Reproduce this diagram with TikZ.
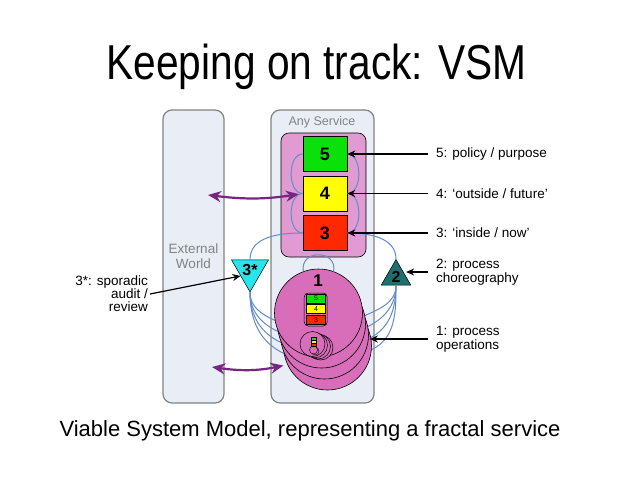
\documentclass[tikz,border=0pt]{standalone}
\usepackage{fontspec}
\setmainfont{Liberation Sans}
\usepackage{tikz}
\usetikzlibrary{arrows.meta,positioning,shapes.geometric}

\definecolor{panelfill}{RGB}{233,238,246}
\definecolor{panelline}{RGB}{130,130,130}
\definecolor{mgmtpink}{RGB}{224,156,210}
\definecolor{discpink}{RGB}{216,110,186}
\definecolor{sysgreen}{RGB}{10,225,10}
\definecolor{sysyellow}{RGB}{255,255,0}
\definecolor{sysred}{RGB}{255,40,0}
\definecolor{flowblue}{RGB}{100,140,200}
\definecolor{linkpurple}{RGB}{118,38,128}
\definecolor{coordteal}{RGB}{30,112,112}
\definecolor{auditcyan}{RGB}{40,228,235}

\tikzset{
	panel/.style={draw=panelline, fill=panelfill, rounded corners=9pt, line width=1.2pt},
	sysbox/.style={draw, line width=0.6pt, minimum width=44pt, minimum height=35pt, font=\bfseries\fontsize{18}{18}\selectfont},
	minibox/.style={draw, line width=0.4pt, minimum width=19pt, minimum height=9pt, inner sep=0, font=\fontsize{7}{7}\selectfont},
	disc/.style={draw, line width=0.6pt, circle, fill=discpink, minimum size=88pt, inner sep=0},
	smalldisc/.style={draw, line width=0.5pt, circle, fill=discpink, minimum size=25pt, inner sep=0},
	tri/.style={draw, line width=0.5pt, regular polygon, regular polygon sides=3, minimum size=34pt, inner sep=0, font=\bfseries\fontsize{16}{16}\selectfont},
	flow/.style={draw=flowblue, line width=1pt},
	pointer/.style={-{Stealth[length=8pt,width=7pt]}, line width=1.2pt},
	linkarrow/.style={{Stealth[length=13pt,width=11pt]}-{Stealth[length=13pt,width=11pt]}, draw=linkpurple, line width=2.2pt, shorten >=4pt},
	lbl/.style={font=\fontsize{13.5}{14}\selectfont, inner xsep=8pt, inner ysep=1pt}
}

\begin{document}
\begin{tikzpicture}[x=1pt, y=1pt, node distance=39.5pt]
		\useasboundingbox[fill=white] (0,0) rectangle (638,-479);
		
		% title and caption
		\node[anchor=base, font=\fontsize{49}{49}\selectfont, xscale=0.83, transform shape] (title) at (316.5,-79) {Keeping on track: VSM};
		\node[anchor=base, font=\fontsize{22}{22}\selectfont] (caption) at (310,-436) {Viable System Model, representing a fractal service};
		
		% panels
		\node[panel, minimum width=61pt, minimum height=293pt, text=panelline, align=center, font=\fontsize{13.5}{15}\selectfont] (ext) at (193.5,-256.5) {External\\World};
		\node[panel, minimum width=103pt, minimum height=293pt] (svc) at (322.5,-256.5) {};
		\node[text=panelline, font=\fontsize{12.5}{12.5}\selectfont] (anysvc) at (322,-122) {Any Service};
		\node[draw, line width=0.6pt, fill=mgmtpink, rounded corners=8pt, minimum width=85pt, minimum height=124pt] (mgmt) at (323.5,-195) {};
		
		% systems 5, 4, 3
		\node[sysbox, fill=sysgreen] (s5) at (325,-154) {5};
		\node[sysbox, fill=sysyellow, below of=s5] (s4) {4};
		\node[sysbox, fill=sysred, below of=s4] (s3) {3};
		
		% loops between the boxes
		\draw[flow] (s5.west) to[out=180,in=180] (s4.west);
		\draw[flow] (s4.west) to[out=180,in=180] (s3.west);
		\draw[flow] (s5.east) to[out=0,in=0] (s4.east);
		\draw[flow] (s4.east) to[out=0,in=0] (s3.east);
		
		% 3* and 2
		\node[tri, fill=auditcyan, shape border rotate=180] (t3s) at (250,-270.5) {3*};
		\node[tri, fill=coordteal] (t2) at (396,-276.5) {2};
		\draw[flow] (s3.west) to[out=180,in=90] (t3s.north);
		\draw[flow] (s3.east) to[out=0,in=90] (t2.north);
		
		% fans to the operations (drawn before the discs)
		\draw[flow] (t3s.south) to[out=-90,in=155] (321.5-43.3,-324-7.6);
		\draw[flow] (t3s.south) to[out=-90,in=155] (324.5-43.3,-335-7.6);
		\draw[flow] (t3s.south) to[out=-90,in=155] (327.5-43.3,-346-7.6);
		\draw[flow] (t3s.south) to[out=-90,in=155] (318.5-43.3,-313-7.6);
		\draw[flow] (t2.south) to[out=-90,in=25] (318.5+43.8,-313-3.8);
		\draw[flow] (t2.south) to[out=-90,in=25] (321.5+43.8,-324-3.8);
		\draw[flow] (t2.south) to[out=-90,in=25] (324.5+43.8,-335-3.8);
		\draw[flow] (t2.south) to[out=-90,in=25] (327.5+43.8,-346-3.8);
		
		% system 1, stacked
		\node[disc] (c4) at (327.5,-346) {};
		\node[disc] (c3) at (324.5,-335) {};
		\node[disc] (c2) at (321.5,-324) {};
		\node[disc] (c1) at (318.5,-313) {};
		\draw[flow] (c1.110) to[out=100,in=80,looseness=1.9] (c1.70);
		\node[font=\bfseries\fontsize{17}{17}\selectfont] (one) at (318,-281) {1};
		
		% the fractal copy inside system 1
		\node[draw, line width=0.5pt, fill=discpink, rounded corners=4pt, minimum width=23pt, minimum height=33pt] (mini) at (315.7,-309.5) {};
		\node[minibox, fill=sysgreen] (m5) at (316,-298.5) {5};
		\node[minibox, fill=sysyellow] (m4) at (316,-309) {4};
		\node[minibox, fill=sysred] (m3) at (316,-320) {3};
		\node[smalldisc] (d4) at (320.5,-347.5) {};
		\node[smalldisc] (d3) at (318,-346.5) {};
		\node[smalldisc] (d2) at (315,-345.3) {};
		\node[smalldisc] (d1) at (312.5,-344) {};
		\node[draw, circle, line width=0.4pt, fill=discpink, minimum size=8pt, inner sep=0] (e2) at (315,-351) {};
		\node[draw, circle, line width=0.4pt, fill=discpink, minimum size=8pt, inner sep=0] (e1) at (313.5,-350) {};
		\node[draw, line width=0.3pt, fill=sysgreen, minimum width=5pt, minimum height=3pt, inner sep=0] (u5) at (313.7,-338.5) {};
		\node[draw, line width=0.3pt, fill=sysyellow, minimum width=5pt, minimum height=3pt, inner sep=0, below=0pt of u5] (u4) {};
		\node[draw, line width=0.3pt, fill=sysred, minimum width=5pt, minimum height=3pt, inner sep=0, below=0pt of u4] (u3) {};
		
		% links with the outside
		\coordinate (ew1) at (208,-195);
		\coordinate (ew2) at (212,-367);
		\draw[linkarrow] (ew1) to[bend right=8] (s4.west);
		\draw[linkarrow] (ew2) to[bend right=10] (c4.205);
		
		% labels
		\node[lbl, anchor=west] (l5) at (428,-154) {5: policy / purpose};
		\node[lbl, anchor=west] (l4) at (428,-193.5) {4: ‘outside / future’};
		\node[lbl, anchor=west] (l3) at (428,-233) {3: ‘inside / now’};
		\node[lbl, anchor=west, align=left] (l2) at (428,-272) {2: process\\choreography};
		\node[lbl, anchor=west, align=left] (l1) at (428,-339) {1: process\\operations};
		\node[lbl, anchor=east, align=right, inner xsep=2pt, font=\fontsize{13.5}{13}\selectfont] (l3s) at (150,-294) {3*: sporadic\\audit /\\review};
		
		\draw[pointer] (l5.west) to (s5.east);
		\draw[pointer] (l4.west) to (s4.east);
		\draw[pointer] (l3.west) to (s3.east);
		\draw[pointer] (l2.west) to (l2.west -| t2.east);
		\draw[pointer] (l1.west) to ([xshift=-2pt]l1.west -| c4.east);
		\draw[pointer] (l3s.east) to (t3s.210);
\end{tikzpicture}
\end{document}
